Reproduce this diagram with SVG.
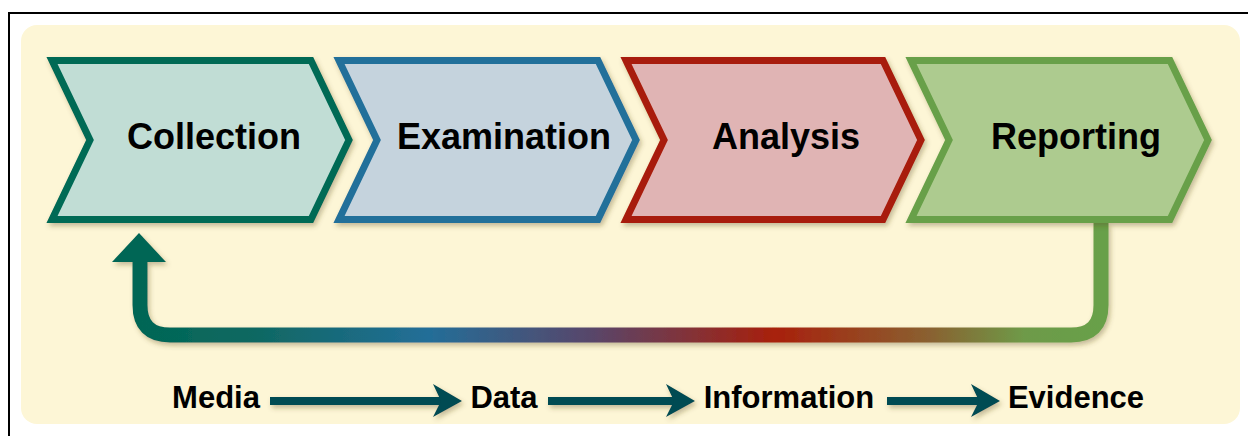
<svg xmlns="http://www.w3.org/2000/svg" width="1248" height="436" viewBox="0 0 1248 436">
  <style>
    .lbl { font-family: "Liberation Sans", Arial, sans-serif; font-weight: bold; font-size: 36px; fill: #000; text-anchor: middle; }
    .sub { font-family: "Liberation Sans", Arial, sans-serif; font-weight: bold; font-size: 31px; fill: #000; text-anchor: middle; }
    .chev { stroke-width: 7; stroke-linejoin: miter; filter: url(#shadow); }
    .flow { fill: #004B52; }
  </style>
  <defs>
    <filter id="shadow" x="-10%" y="-10%" width="125%" height="130%">
      <feDropShadow dx="2" dy="3" stdDeviation="2.5" flood-color="#5a4a20" flood-opacity="0.35"/>
    </filter>
    <linearGradient id="loopGrad" gradientUnits="userSpaceOnUse" x1="140" y1="0" x2="1101" y2="0">
      <stop offset="0" stop-color="#006655"/>
      <stop offset="0.12" stop-color="#0F6862"/>
      <stop offset="0.3" stop-color="#236E98"/>
      <stop offset="0.47" stop-color="#58466A"/>
      <stop offset="0.66" stop-color="#A8200C"/>
      <stop offset="0.82" stop-color="#8A6030"/>
      <stop offset="0.92" stop-color="#6E9A48"/>
      <stop offset="1" stop-color="#68A048"/>
    </linearGradient>
  </defs>

  <rect x="9" y="13" width="1260" height="440" fill="#FFFFFF" stroke="#000000" stroke-width="2"/>
  <rect x="21" y="25" width="1219" height="399" rx="16" ry="16" fill="#FDF6D6"/>

  <g id="connectors">
    <g id="feedback" filter="url(#shadow)">
      <path d="M1101,223 V305 Q1101,335 1071,335 H170 Q140,335 140,305 V258" fill="none" stroke="url(#loopGrad)" stroke-width="15"/>
      <polygon points="112,262 139,233 166,262" fill="#006655"/>
    </g>
    <g id="media-data" filter="url(#shadow)">
      <rect x="270" y="397" width="172" height="8" class="flow"/>
      <polygon points="433,384 462,401 433,417 441,401" class="flow"/>
    </g>
    <g id="data-information" filter="url(#shadow)">
      <rect x="548" y="397" width="127" height="8" class="flow"/>
      <polygon points="666,384 695,401 666,417 674,401" class="flow"/>
    </g>
    <g id="information-evidence" filter="url(#shadow)">
      <rect x="887" y="397" width="93" height="8" class="flow"/>
      <polygon points="971,384 1000,401 971,417 979,401" class="flow"/>
    </g>
  </g>

  <g id="collection">
    <polygon class="chev" points="52,60.5 311,60.5 349,140 311,219.5 52,219.5 90,140" fill="#C1DDD5" stroke="#006A55"/>
    <text class="lbl" x="214" y="149">Collection</text>
  </g>
  <g id="examination">
    <polygon class="chev" points="339,60.5 598,60.5 636,140 598,219.5 339,219.5 377,140" fill="#C5D3DD" stroke="#236F9A"/>
    <text class="lbl" x="504" y="149">Examination</text>
  </g>
  <g id="analysis">
    <polygon class="chev" points="626,60.5 883,60.5 921,140 883,219.5 626,219.5 664,140" fill="#E0B4B4" stroke="#A81C0A"/>
    <text class="lbl" x="786" y="149">Analysis</text>
  </g>
  <g id="reporting">
    <polygon class="chev" points="911,60.5 1170,60.5 1208,140 1170,219.5 911,219.5 949,140" fill="#ADCB8F" stroke="#68A048"/>
    <text class="lbl" x="1076" y="149">Reporting</text>
  </g>

  <g id="media"><text class="sub" x="216" y="408">Media</text></g>
  <g id="data"><text class="sub" x="504" y="408">Data</text></g>
  <g id="information"><text class="sub" x="789" y="408">Information</text></g>
  <g id="evidence"><text class="sub" x="1076" y="408">Evidence</text></g>
</svg>
